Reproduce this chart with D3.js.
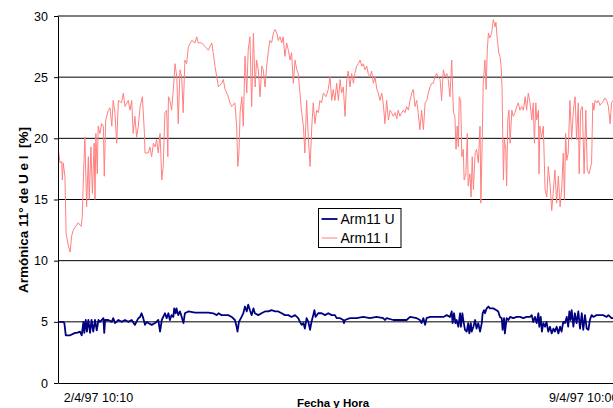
<!DOCTYPE html>
<html>
<head>
<meta charset="utf-8">
<script src="https://cdn.jsdelivr.net/npm/d3@7"></script>
<style>
  body { margin: 0; background: #fff; }
  svg { display: block; }
  text { font-family: "Liberation Sans", Arial, sans-serif; fill: #000; }
</style>
</head>
<body>
<svg id="chart" width="613" height="408"></svg>
<script>
// Record start: 1/4/97 20:20; samples are given in hours from this instant
const startTime = new Date(1997, 3, 1, 20, 20);

// 11th harmonic of voltage [%]
const hoursU = [0.0,1.8,2.2,2.7,4.2,5.9,6.5,7.6,8.2,8.8,9.1,9.6,10.0,10.5,11.1,11.6,12.2,12.8,13.4,14.0,14.5,15.1,15.7,16.0,16.3,17.4,18.6,19.1,19.7,20.9,22.0,23.2,24.3,25.5,26.6,27.8,28.4,28.9,29.5,30.1,30.7,31.2,32.4,33.6,34.7,35.3,35.9,36.4,37.0,37.6,38.2,38.7,39.3,39.9,40.2,40.7,41.0,41.6,42.2,42.8,43.4,43.9,45.1,47.4,49.7,52.0,53.7,54.9,55.5,56.6,57.8,58.9,60.1,61.2,61.8,62.1,62.6,63.5,64.1,64.7,65.3,65.8,66.4,67.0,67.6,68.1,69.3,70.4,71.6,72.8,73.9,75.1,76.2,77.4,78.5,79.7,80.8,82.0,83.1,83.7,84.3,84.9,85.4,86.0,86.6,87.2,87.7,88.3,88.7,89.1,90.0,91.2,92.4,93.5,94.7,95.8,96.4,97.6,98.7,98.9,99.3,101.0,103.3,105.6,107.9,110.2,112.5,113.1,113.7,116.0,118.3,120.6,121.8,124.1,125.2,125.8,126.4,127.0,127.5,128.7,131.0,133.3,134.5,135.6,136.2,136.5,137.0,137.5,137.9,138.5,139.1,139.4,139.9,140.2,140.8,141.4,141.9,142.3,142.8,143.1,143.7,144.3,144.8,145.4,146.0,146.6,146.9,147.4,147.7,148.3,148.9,149.4,150.6,151.7,152.3,152.9,153.5,153.8,154.3,154.6,155.2,155.8,156.4,157.5,158.7,159.8,161.0,162.1,163.3,163.9,164.4,165.0,165.6,166.2,166.5,167.0,167.4,167.9,168.5,169.0,169.6,170.2,170.8,171.4,171.9,172.5,173.1,173.7,174.2,174.8,175.4,176.0,176.5,176.9,177.3,177.7,178.3,178.8,179.4,180.0,180.6,181.2,181.7,182.3,182.9,183.5,184.0,184.6,185.2,186.3,187.5,188.6,189.8,190.4,191.5,192.0];
const arm11U = [5.0,5.0,4.9,3.9,3.9,4.1,4.1,4.2,3.9,5.0,4.1,5.15,4.2,5.15,4.1,5.15,4.2,5.15,4.3,5.15,5.0,5.15,5.3,4.1,5.15,5.15,5.0,5.3,4.9,5.15,5.0,5.15,5.0,5.15,4.75,5.3,5.4,5.7,5.3,4.75,5.0,4.9,4.75,4.9,5.15,4.2,5.15,5.4,5.7,5.3,5.7,5.15,5.55,5.4,6.1,5.7,6.1,5.55,5.85,5.4,4.9,5.7,5.85,5.75,5.75,5.75,5.7,5.55,5.7,5.55,5.55,5.55,5.4,5.15,4.6,4.2,5.0,5.4,5.7,6.25,5.85,6.4,5.95,5.55,6.1,5.7,5.55,5.7,5.85,5.85,5.95,5.85,5.85,5.7,5.55,5.55,5.4,5.55,5.3,5.0,4.75,4.9,4.45,5.3,5.0,4.35,5.0,5.55,5.95,5.4,5.7,5.7,5.55,5.7,5.55,5.55,5.3,5.3,5.15,4.9,5.15,5.3,5.3,5.4,5.3,5.4,5.3,5.15,5.3,5.15,5.15,5.15,5.4,5.3,5.15,4.9,5.3,4.75,5.3,5.4,5.4,5.4,5.55,5.4,5.85,4.9,5.7,4.9,5.15,4.6,5.7,4.6,5.7,5.15,4.35,4.2,4.9,4.05,4.9,4.2,4.6,5.15,4.45,4.9,4.2,4.9,5.7,5.95,5.7,6.1,6.25,6.1,6.1,5.95,5.85,5.4,5.3,4.35,5.3,4.05,5.3,5.15,5.4,5.3,5.4,5.4,5.3,5.4,5.4,5.55,5.0,5.4,4.9,5.7,4.6,5.4,4.2,4.9,4.6,5.0,4.2,4.6,4.05,4.45,4.2,4.6,4.05,4.6,4.2,5.0,4.9,5.4,4.6,5.85,5.15,5.95,4.6,5.7,4.9,5.85,4.45,5.7,4.35,5.55,4.45,4.35,5.15,5.55,5.4,5.55,5.55,5.55,5.4,5.55,5.3,5.3];

// 11th harmonic of current [%]
const hoursI = [0.1,0.7,1.3,1.5,1.8,2.4,2.8,3.6,4.2,4.7,5.3,6.1,7.0,8.0,8.4,8.8,9.3,9.9,10.5,10.8,11.4,11.9,12.5,12.8,13.1,13.6,13.9,14.5,15.1,15.7,16.0,16.5,17.4,18.0,18.6,19.1,19.7,20.3,20.9,22.0,22.6,23.2,24.3,24.9,25.5,26.0,26.6,27.2,27.8,28.4,29.2,29.9,30.1,31.2,31.8,32.4,33.0,33.6,34.1,34.7,35.3,35.9,36.4,37.0,37.6,38.0,38.2,38.7,39.3,39.9,40.5,41.1,41.6,42.2,42.8,43.3,43.9,44.5,45.1,46.3,47.4,48.0,48.5,49.7,50.9,52.0,53.2,53.7,54.3,55.5,56.6,57.2,57.8,58.4,58.9,59.5,60.1,61.2,61.8,62.2,62.6,63.0,63.6,64.1,64.7,65.3,65.8,66.4,67.0,67.6,68.2,68.7,69.3,69.9,70.5,71.0,71.6,72.2,72.8,73.3,73.9,74.5,75.1,75.7,76.2,76.8,77.4,77.9,78.5,79.1,79.7,80.3,80.8,81.4,82.0,82.6,83.1,83.7,84.3,84.9,85.4,86.0,86.6,87.2,87.8,88.3,88.9,89.5,90.1,90.6,91.2,91.8,92.7,93.5,94.1,94.7,95.2,95.8,96.4,97.0,97.6,98.1,98.7,99.3,99.9,100.4,101.0,101.6,102.2,102.7,103.3,103.9,104.5,105.1,105.6,106.2,106.8,107.3,107.9,108.5,109.1,109.7,110.3,110.8,111.4,112.0,112.5,113.1,113.7,114.3,114.9,115.4,116.0,116.6,117.2,117.7,118.3,118.9,119.5,120.0,120.6,121.2,121.8,122.4,122.9,123.5,124.1,124.6,125.2,125.8,126.4,127.0,127.6,128.1,128.7,129.3,129.8,130.4,131.0,131.6,132.2,132.7,133.3,133.9,134.5,135.0,135.6,136.2,136.8,137.3,137.7,138.1,138.5,138.8,139.3,139.7,140.2,140.5,141.1,141.6,141.9,142.5,142.9,143.3,143.7,144.3,144.8,145.4,146.0,146.3,146.8,147.1,147.7,148.1,148.5,148.9,149.4,150.0,150.6,151.2,151.5,152.0,152.5,152.9,153.3,153.6,154.1,154.4,154.9,155.2,155.6,156.0,156.4,157.0,157.5,158.1,158.7,159.2,159.8,160.4,161.0,161.6,162.1,162.7,163.3,163.9,164.4,164.8,165.3,165.6,166.2,166.4,166.7,167.3,167.9,168.5,169.1,169.6,170.2,170.8,171.3,171.9,172.5,173.1,173.7,174.3,174.8,175.2,175.6,176.0,176.5,177.1,177.7,178.3,178.9,179.4,180.0,180.3,180.8,181.4,182.0,182.6,183.1,183.7,184.3,184.6,185.0,185.4,185.8,186.4,186.9,187.5,188.1,188.6,189.2,189.8,190.4,191.0,191.5,192.0];
const arm11I = [19.1,18.0,18.1,16.6,18.0,16.9,12.2,11.2,10.7,12.0,12.5,12.8,13.1,12.8,13.6,16.9,20.1,14.4,18.5,15.0,19.3,15.5,19.6,15.0,20.4,17.1,21.0,20.4,21.2,21.0,16.9,21.5,22.3,22.5,21.0,23.1,22.1,19.6,23.1,22.9,23.7,22.6,23.1,22.3,23.1,20.4,21.8,20.1,21.0,22.6,23.4,20.4,18.8,18.8,19.3,18.5,19.6,19.3,19.9,18.8,20.4,16.6,17.7,22.1,22.3,18.5,23.4,23.1,22.3,24.0,26.1,25.0,21.2,25.6,25.0,22.1,26.4,26.1,27.5,28.0,27.8,28.3,27.8,27.8,27.5,27.2,27.8,27.0,25.9,24.2,24.5,24.8,24.0,23.7,23.4,22.9,22.6,22.9,21.0,17.7,18.8,22.1,23.4,21.0,26.7,23.7,27.2,28.3,22.6,28.6,24.2,26.4,25.6,23.4,25.9,25.6,24.2,25.9,27.2,28.0,27.8,28.6,28.9,28.6,28.0,28.3,27.8,28.3,26.7,27.8,27.2,26.4,27.0,24.5,26.4,25.6,25.3,23.7,22.1,21.0,18.8,23.1,20.1,17.7,21.0,22.9,21.2,22.3,22.1,23.1,22.9,23.7,23.4,24.0,25.0,23.1,24.0,23.1,24.5,23.1,24.8,23.7,24.2,21.8,24.8,25.5,24.2,25.3,24.5,25.3,25.9,26.1,26.4,25.9,26.1,25.6,25.9,25.3,25.0,25.5,24.5,25.0,24.0,23.7,23.1,23.7,22.9,21.2,23.1,21.5,22.3,22.1,21.8,22.1,21.6,22.3,21.8,22.1,22.3,22.1,22.6,22.3,23.1,23.7,24.0,22.6,23.1,22.1,20.7,22.3,20.7,22.9,23.1,23.7,24.2,24.5,24.5,25.0,25.3,25.0,24.8,23.1,25.6,25.0,25.3,24.8,23.4,26.4,22.1,21.8,19.1,21.0,19.3,23.4,23.1,18.5,19.1,16.6,17.1,20.4,16.1,17.1,15.2,18.5,15.8,18.8,19.1,18.0,21.0,14.7,20.4,24.5,26.4,24.0,27.2,28.6,28.2,28.6,29.7,29.1,29.5,28.0,27.0,26.7,25.9,24.2,16.6,19.9,19.1,16.1,21.5,22.3,19.6,22.3,21.8,22.1,22.6,22.9,22.3,22.6,22.3,23.4,22.3,23.7,22.9,21.5,22.9,19.6,22.9,21.5,22.3,17.1,21.0,20.1,21.0,15.8,15.2,17.7,16.3,14.1,15.5,17.4,14.7,16.9,14.4,16.1,18.8,15.0,20.4,18.2,18.8,23.1,19.9,22.3,23.4,19.9,22.9,17.1,22.3,22.6,17.1,22.3,17.4,17.1,17.7,18.0,22.9,22.3,23.1,22.9,23.1,22.7,22.9,23.0,23.3,23.1,22.6,21.2,22.9,23.1];

// Axis ticks and labels
const yTicks = [0, 5, 10, 15, 20, 25, 30];
const xTickDates = [new Date(1997, 3, 2, 10, 10), new Date(1997, 3, 9, 10, 0)];
const xTickLabels = ["2/4/97 10:10", "9/4/97 10:00"];
const seriesNames = ["Arm11 U", "Arm11 I"];
const seriesColors = ["#000080", "#FF8080"];

const HOUR = 3600 * 1000;
const toDate = h => new Date(startTime.getTime() + h * HOUR);

const svg = d3.select("#chart");
const plot = { left: 58, right: 613, top: 16, bottom: 383 };

const x = d3.scaleTime()
  .domain([startTime, toDate(192)])
  .range([plot.left, plot.right]);
const y = d3.scaleLinear()
  .domain([0, 30])
  .range([plot.bottom, plot.top]);

// Horizontal gridlines
svg.append("g")
  .selectAll("line")
  .data(yTicks.filter(v => v > 0))
  .join("line")
  .attr("x1", plot.left).attr("x2", plot.right)
  .attr("y1", d => y(d)).attr("y2", d => y(d))
  .attr("stroke", "#000").attr("stroke-width", 1);

svg.append("clipPath").attr("id", "plot-clip")
  .append("rect")
  .attr("x", plot.left).attr("y", plot.top - 2)
  .attr("width", plot.right - plot.left).attr("height", plot.bottom - plot.top + 2);

const line = d3.line()
  .x(d => x(toDate(d[0])))
  .y(d => y(d[1]));

const seriesU = hoursU.map((h, i) => [h, arm11U[i]]);
const seriesI = hoursI.map((h, i) => [h, arm11I[i]]);

const lines = svg.append("g").attr("clip-path", "url(#plot-clip)");
lines.append("path")
  .datum(seriesU)
  .attr("d", line)
  .attr("fill", "none")
  .attr("stroke", seriesColors[0])
  .attr("stroke-width", 1.8)
  .attr("stroke-linejoin", "round");
lines.append("path")
  .datum(seriesI)
  .attr("d", line)
  .attr("fill", "none")
  .attr("stroke", seriesColors[1])
  .attr("stroke-width", 1)
  .attr("stroke-linejoin", "round");

// Y axis
const yAxis = svg.append("g")
  .attr("transform", `translate(${plot.left},0)`)
  .call(d3.axisLeft(y).tickValues(yTicks).tickSize(4).tickPadding(6).tickSizeOuter(0));
yAxis.select(".domain").attr("stroke", "#000");
yAxis.selectAll(".tick line").attr("stroke", "#000");
yAxis.selectAll(".tick text")
  .attr("font-size", "12.5px")
  .style("font-family", '"Liberation Sans", Arial, sans-serif');

// X axis
const xAxis = svg.append("g")
  .attr("transform", `translate(0,${plot.bottom})`)
  .call(d3.axisBottom(x).tickValues(xTickDates).tickSize(0).tickPadding(10.5)
    .tickFormat((d, i) => xTickLabels[i]));
xAxis.select(".domain").attr("stroke", "#000");
xAxis.selectAll(".tick text")
  .attr("font-size", "12.5px")
  .style("font-family", '"Liberation Sans", Arial, sans-serif');

// Axis titles
svg.append("text")
  .attr("transform", "translate(28,210) rotate(-90)")
  .attr("text-anchor", "middle")
  .attr("font-size", "13.5px")
  .attr("font-weight", "bold")
  .attr("xml:space", "preserve")
  .style("white-space", "pre")
  .text("Armónica 11° de U e I  [%]");

svg.append("text")
  .attr("x", 333).attr("y", 407)
  .attr("text-anchor", "middle")
  .attr("font-size", "11.5px")
  .attr("font-weight", "bold")
  .text("Fecha y Hora");

// Legend
const legend = svg.append("g").attr("transform", "translate(318.5,208.5)");
legend.append("rect")
  .attr("width", 82.5).attr("height", 39)
  .attr("fill", "#fff").attr("stroke", "#000").attr("stroke-width", 1);
const items = legend.selectAll("g.item")
  .data(seriesNames)
  .join("g")
  .attr("class", "item")
  .attr("transform", (d, i) => `translate(0,${10.5 + i * 19})`);
items.append("line")
  .attr("x1", 3).attr("x2", 19)
  .attr("stroke", (d, i) => seriesColors[i])
  .attr("stroke-width", (d, i) => i === 0 ? 1.8 : 1);
items.append("text")
  .attr("x", 22).attr("y", 5)
  .attr("font-size", "14px")
  .text(d => d);
</script>
</body>
</html>
